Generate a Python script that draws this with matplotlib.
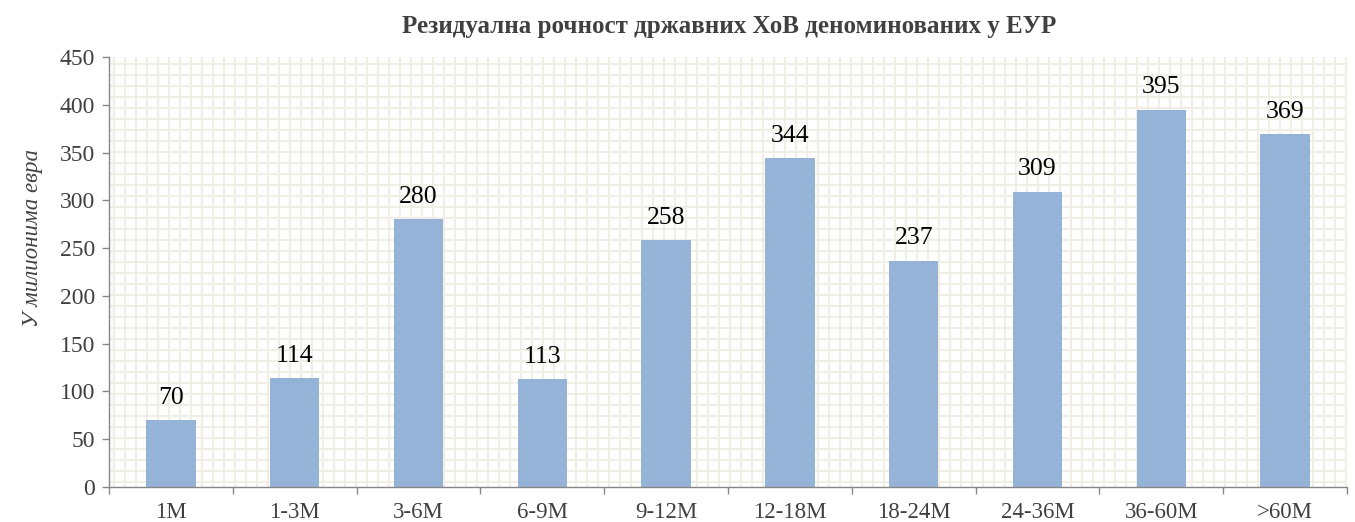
import matplotlib
matplotlib.use("Agg")
import matplotlib.pyplot as plt
import numpy as np

categories = ["1M", "1-3M", "3-6M", "6-9M", "9-12M", "12-18M", "18-24M", "24-36M", "36-60M", ">60M"]
values = [70, 114, 280, 113, 258, 344, 237, 309, 395, 369]
yticks = [0, 50, 100, 150, 200, 250, 300, 350, 400, 450]
title = "Резидуална рочност државних ХоВ деноминованих у ЕУР"
ylabel = "У милионима евра"

plt.rcParams['font.family'] = ['Liberation Serif', 'DejaVu Serif']

W, H = 1355, 522
fig = plt.figure(figsize=(W / 100, H / 100), dpi=100)
left, right, top, bottom = 109, 1347, 57, 487
ax = fig.add_axes([left / W, 1 - bottom / H, (right - left) / W, (bottom - top) / H])

# pattern fill background
grid_color = "#F0EEE5"
ax_w = right - left
ax_h = bottom - top
step = 11.0
for px in np.arange(5, ax_w, step):
    ax.plot([px / ax_w, px / ax_w], [0, 1], color=grid_color, lw=1.5, zorder=0,
            transform=ax.transAxes, solid_capstyle='butt')
for py in np.arange(5, ax_h, step):
    ax.plot([0, 1], [py / ax_h, py / ax_h], color=grid_color, lw=1.5, zorder=0,
            transform=ax.transAxes, solid_capstyle='butt')

x = np.arange(len(categories))
bars = ax.bar(x, values, width=0.4, color="#95B3D7", zorder=2)
for xi, v in zip(x, values):
    ax.text(xi, v + 12, str(v), ha='center', va='bottom', fontsize=18.5, color='black', zorder=3)

ax.set_xlim(-0.5, len(categories) - 0.5)
ax.set_ylim(0, 450)
ax.set_yticks(yticks)
ax.set_yticklabels([str(t) for t in yticks], fontsize=17, color="#404040")
ax.set_xticks(np.arange(-0.5, len(categories), 1.0), minor=False)
ax.set_xticklabels([])
ax.set_xticks(x, minor=True)
ax.set_xticklabels(categories, minor=True, fontsize=16.5, color="#404040")
ax.tick_params(axis='x', which='major', length=5, color="#868686", width=1)
ax.tick_params(axis='x', which='minor', length=0, pad=11)
ax.tick_params(axis='y', length=5, color="#868686", width=1, pad=5)

for s in ['top', 'right']:
    ax.spines[s].set_visible(False)
for s in ['left', 'bottom']:
    ax.spines[s].set_color("#868686")
    ax.spines[s].set_linewidth(1)

ax.set_ylabel(ylabel, fontsize=16.5, style='italic', color="#404040", labelpad=10)
ax.yaxis.set_label_coords(-0.053, 0.58)
fig.text(0.538, 1 - 26 / H, title, ha='center', va='center', fontsize=18, fontweight='bold', color="#404040")

fig.savefig("out.png", dpi=100, facecolor='white')
